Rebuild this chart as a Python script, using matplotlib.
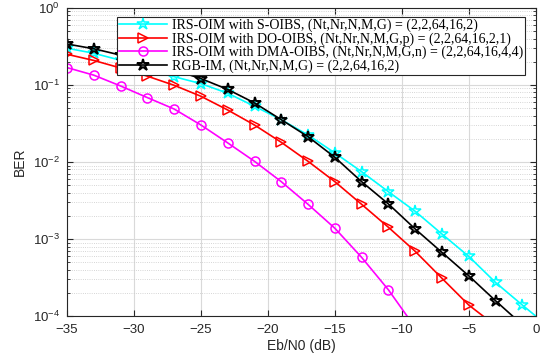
import numpy as np
import matplotlib
matplotlib.use('Agg')
import matplotlib.pyplot as plt
from matplotlib.ticker import LogLocator, NullFormatter

# Eb/N0 (dB) points, step of 2 dB
snr_soibs = np.arange(-35, 2, 2)
snr_doibs = np.arange(-35, -2, 2)
snr_dmaoibs = np.arange(-35, -8, 2)
snr_rgbim = np.arange(-35, 0, 2)

# BER values
ber_soibs = [0.30, 0.258, 0.209, 0.166, 0.128, 0.104, 0.078, 0.0529, 0.0354, 0.0224,
             0.0131, 0.00748, 0.00411, 0.00229, 0.00116, 5.95e-4, 2.73e-4, 1.39e-4, 7.2e-5]
ber_doibs = [0.25, 0.208, 0.166, 0.13, 0.099, 0.0713, 0.0473, 0.0302, 0.018, 0.0102,
             0.00555, 0.00282, 0.00142, 6.92e-4, 3.09e-4, 1.39e-4, 7.5e-5]
ber_dmaoibs = [0.168, 0.134, 0.097, 0.0685, 0.0487, 0.0302, 0.0177, 0.0102, 0.00555,
               0.00282, 0.00138, 5.78e-4, 2.19e-4, 7.1e-5]
ber_rgbim = [0.34, 0.295, 0.244, 0.199, 0.156, 0.121, 0.0875, 0.0584, 0.0354, 0.0213,
             0.0115, 0.00555, 0.00285, 0.00135, 6.7e-4, 3.33e-4, 1.58e-4, 7.7e-5]

labels = ['IRS-OIM with S-OIBS, (Nt,Nr,N,M,G) = (2,2,64,16,2)',
          'IRS-OIM with DO-OIBS, (Nt,Nr,N,M,G,p) = (2,2,64,16,2,1)',
          'IRS-OIM with DMA-OIBS, (Nt,Nr,N,M,G,n) = (2,2,64,16,4,4)',
          'RGB-IM, (Nt,Nr,N,M,G) = (2,2,64,16,2)']

plt.rcParams['font.family'] = ['Liberation Sans', 'DejaVu Sans']
plt.rcParams['mathtext.default'] = 'regular'

fig = plt.figure(figsize=(5.45, 3.6), dpi=100)
ax = fig.add_axes([0.123, 0.122, 0.860, 0.856])

lw = 1.2
ax.plot(snr_soibs, ber_soibs, color='cyan', marker='*', ms=9, mfc='none', mew=1.1, lw=lw, label=labels[0])
ax.plot(snr_doibs, ber_doibs, color='red', marker='>', ms=7, mfc='none', mew=1.1, lw=lw, label=labels[1])
ax.plot(snr_dmaoibs, ber_dmaoibs, color='magenta', marker='o', ms=6.5, mfc='none', mew=1.1, lw=lw, label=labels[2])
ax.plot(snr_rgbim, ber_rgbim, color='black', marker='*', ms=9, mfc='none', mew=1.4, lw=lw, label=labels[3])

ax.set_yscale('log')
ax.set_xlim(-35, 0)
ax.set_ylim(1e-4, 1)
ax.set_xticks(np.arange(-35, 1, 5))
ax.yaxis.set_major_locator(LogLocator(base=10, numticks=10))
ax.yaxis.set_minor_locator(LogLocator(base=10, subs=np.arange(2, 10), numticks=10))
ax.yaxis.set_minor_formatter(NullFormatter())

# matlab style grid and box
ax.grid(True, which='major', color='#d9d9d9', lw=0.8, ls='-')
ax.grid(True, which='minor', axis='y', color='#c8c8c8', lw=0.6, ls=':')
ax.set_axisbelow(True)
ax.tick_params(which='both', direction='in', top=True, right=True, labelsize=9.5, colors='#262626')
ax.tick_params(which='major', length=4)
ax.tick_params(which='minor', length=2.5)
ax.tick_params(axis='x', which='major', pad=6)
ax.tick_params(axis='y', which='major', pad=5)
for s in ax.spines.values():
    s.set_color('#262626')
    s.set_linewidth(0.8)

ax.set_xlabel('Eb/N0 (dB)', fontsize=10, color='#262626', labelpad=2)
ax.set_ylabel('BER', fontsize=10, color='#262626', labelpad=4)

leg = ax.legend(loc='upper right', bbox_to_anchor=(0.978, 0.971),
                prop={'family': 'Liberation Serif', 'size': 10},
                handlelength=3.4, handletextpad=0.4, borderpad=0.15, labelspacing=0.0,
                borderaxespad=0, fancybox=False, framealpha=1, edgecolor='#262626')
leg.get_frame().set_linewidth(0.8)

fig.savefig('out.png', dpi=100)
